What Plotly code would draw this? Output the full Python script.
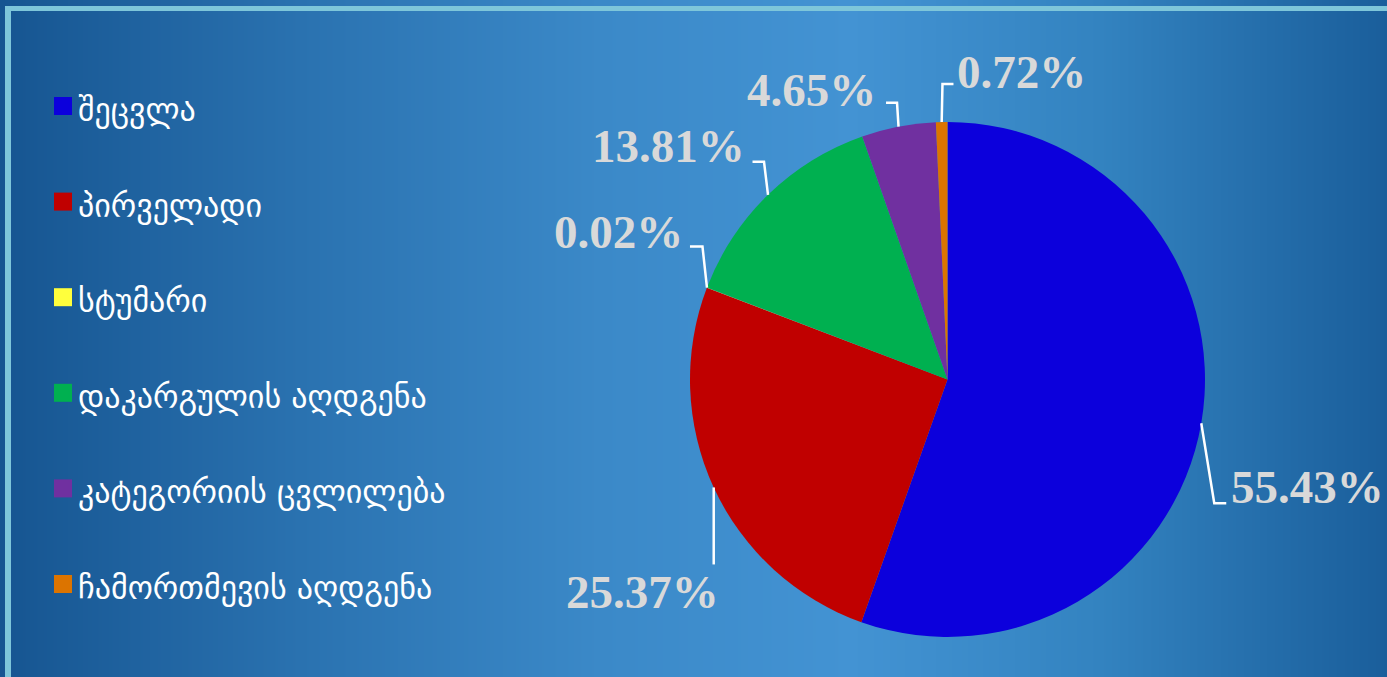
import math
import plotly.graph_objects as go

# ---------------- data ----------------
LABELS = ["შეცვლა", "პირველადი", "სტუმარი", "დაკარგულის აღდგენა",
          "კატეგორიის ცვლილება", "ჩამორთმევის აღდგენა"]
VALUES = [55.43, 25.37, 0.02, 13.81, 4.65, 0.72]
COLORS = ["#0c00dc", "#c00000", "#ffff3c", "#00b050", "#7030a0", "#dc7400"]

# ---------------- layout / style config ----------------
W, H = 1387, 677
PIE_BOX = (690, 122, 1205, 637)          # pixel box of the pie (x0, y0, x1, y1)
# leader line: edge -> elbow (dx, dy), then horizontal arm; label offset from arm end
LEAD_D = [(13, 80), (0, 77), (-4.5, -41), (-4, -33), (-1.5, -24), (0.8, -38)]
ARM = [12, 0, -12.5, -11.5, -11, 11]
LAB_OFF = [(4, -16), (6, 28), (-6, -15), (-7, -16), (-9, -13), (3, -12.5)]
LAB_ANCHOR = ["left", "right", "right", "right", "right", "left"]
LAB_FONT = dict(family="Liberation Serif", size=47, color="#d9d9d9")
LEG_FONT = dict(family="DejaVu Sans", size=32, color="#ffffff")
LEG_X0, LEG_Y0, LEG_STEP, SW = 54, 106, 95.6, 18

BG_X = [0, 300, 600, 850, 1100, 1387]
BG_COLORS = ["#165591", "#2a72b0", "#3b89c8", "#4393d3", "#3383c0", "#1a5e9b"]

fig = go.Figure()

# background gradient
zs = [i / (len(BG_X) - 1) for i in range(len(BG_X))]
fig.add_trace(go.Heatmap(
    x=BG_X, y=[0, H], z=[zs, zs], zsmooth="best", showscale=False,
    hoverinfo="skip",
    colorscale=[[z, c] for z, c in zip(zs, BG_COLORS)]))

x0, y0, x1, y1 = PIE_BOX
fig.add_trace(go.Pie(
    labels=LABELS, values=VALUES, sort=False, direction="clockwise", rotation=0,
    marker=dict(colors=COLORS, line=dict(width=0)), textinfo="none",
    showlegend=False, hoverinfo="label+percent",
    domain=dict(x=[x0 / W, x1 / W], y=[1 - y1 / H, 1 - y0 / H])))

cx, cy = (x0 + x1) / 2, (y0 + y1) / 2
R = min(x1 - x0, y1 - y0) / 2
total = sum(VALUES)
shapes, annots = [], []
cum = 0
for i, v in enumerate(VALUES):
    mid = (cum + v / 2) / total * 2 * math.pi
    cum += v
    ex, ey = cx + R * math.sin(mid), cy - R * math.cos(mid)
    bx, by = ex + LEAD_D[i][0], ey + LEAD_D[i][1]
    ax = bx + ARM[i]
    path = f"M{ex},{ey} L{bx},{by}" + (f" L{ax},{by}" if ARM[i] else "")
    shapes.append(dict(type="path", path=path, xref="x", yref="y",
                       line=dict(color="white", width=2.5)))
    annots.append(dict(x=ax + LAB_OFF[i][0], y=by + LAB_OFF[i][1], xref="x", yref="y",
                       text=f"<b>{v:.2f}%</b>", showarrow=False, borderpad=0,
                       xanchor=LAB_ANCHOR[i], yanchor="middle", font=LAB_FONT))

# custom legend
for i, (lab, col) in enumerate(zip(LABELS, COLORS)):
    yc = LEG_Y0 + i * LEG_STEP
    shapes.append(dict(type="rect", xref="x", yref="y", x0=LEG_X0, x1=LEG_X0 + SW,
                       y0=yc - SW / 2, y1=yc + SW / 2, fillcolor=col, line=dict(width=0)))
    annots.append(dict(x=LEG_X0 + SW + 4, y=yc + 4, xref="x", yref="y", text=lab,
                       showarrow=False, xanchor="left", yanchor="middle", font=LEG_FONT))

# frame lines
shapes.append(dict(type="line", xref="x", yref="y", x0=5, x1=W, y0=8.5, y1=8.5,
                   line=dict(color="#7ec6da", width=5)))
shapes.append(dict(type="line", xref="x", yref="y", x0=8, x1=8, y0=6, y1=H,
                   line=dict(color="#7ec6da", width=6)))

fig.update_layout(
    width=W, height=H, margin=dict(l=0, r=0, t=0, b=0),
    paper_bgcolor="#2a72b0", plot_bgcolor="#2a72b0",
    xaxis=dict(range=[0, W], visible=False, fixedrange=True),
    yaxis=dict(range=[H, 0], visible=False, fixedrange=True),
    shapes=shapes, annotations=annots, showlegend=False)

fig.write_html("out.html", config={"displayModeBar": False},
               post_script="document.body.style.margin='0';document.body.style.overflow='hidden';")
